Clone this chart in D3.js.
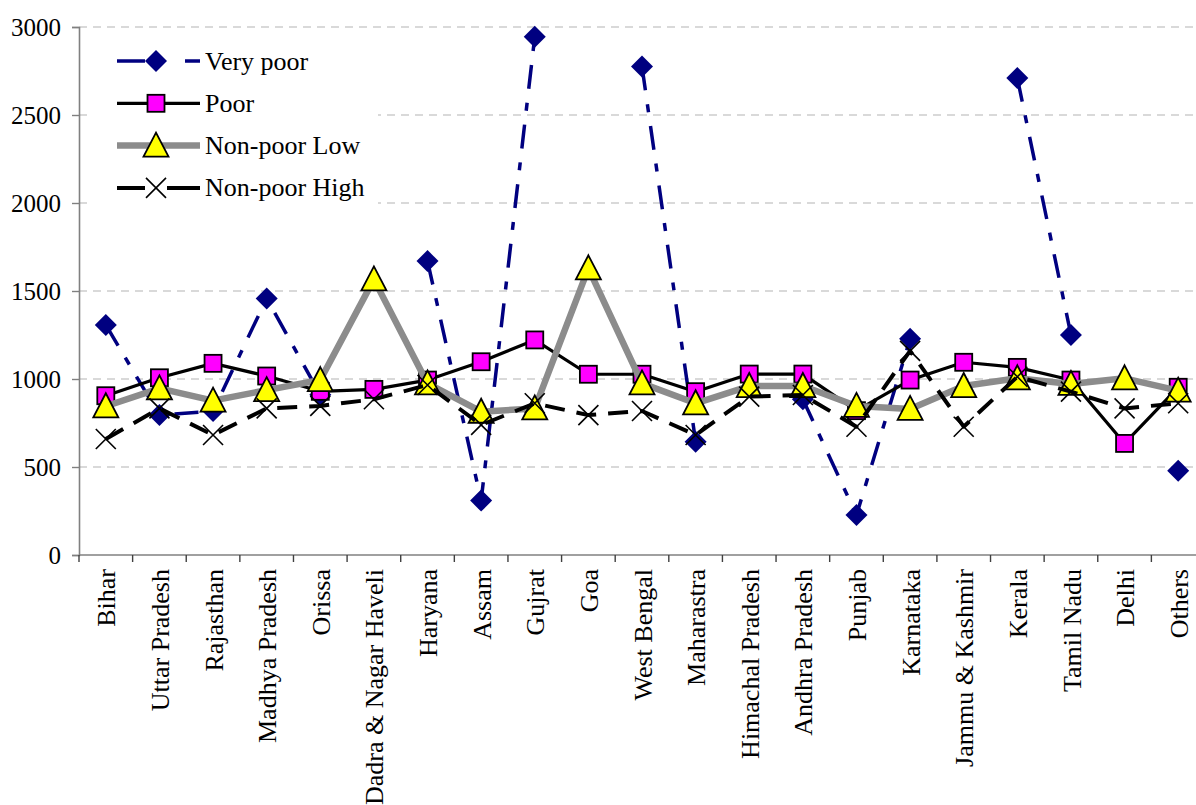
<!DOCTYPE html>
<html>
<head>
<meta charset="utf-8">
<script src="https://cdn.jsdelivr.net/npm/d3@7"></script>
<style>
  html, body { margin: 0; padding: 0; background: #fff; }
  svg { display: block; }
  svg text { font-family: "Liberation Serif", serif; fill: #000; }
</style>
</head>
<body>
<svg id="chart" width="1196" height="805"></svg>
<script>
// States / union territories along the category axis
const states = ["Bihar", "Uttar Pradesh", "Rajasthan", "Madhya Pradesh", "Orissa",
  "Dadra & Nagar Haveli", "Haryana", "Assam", "Gujrat", "Goa", "West Bengal",
  "Maharastra", "Himachal Pradesh", "Andhra Pradesh", "Punjab", "Karnataka",
  "Jammu & Kashmir", "Kerala", "Tamil Nadu", "Delhi", "Others"];

// null = no value for that state
const veryPoor = [1307, 795, 818, 1458, 910, null, 1670, 309, 2945, null, 2775,
  644, null, 885, 227, 1228, null, 2710, 1250, null, 479];
const poor = [905, 1007, 1089, 1017, 930, 941, 994, 1098, 1222, 1027, 1027,
  928, 1028, 1028, 820, 994, 1095, 1066, 994, 634, 953];
const nonPoorLow = [845, 947, 877, 937, 994, 1566, 975, 814, 833, 1629, 975,
  862, 960, 960, 847, 830, 960, 1004, 972, 1004, 934];
const nonPoorHigh = [659, 833, 682, 833, 847, 885, 966, 739, 862, 795, 818,
  682, 900, 909, 729, 1160, 729, 1013, 928, 833, 862];

const yTicks = [0, 500, 1000, 1500, 2000, 2500, 3000];

const series = [
  { name: "Very poor", values: veryPoor, stroke: "#000080", width: 3.5, dash: "24,14,8,14", marker: "diamond" },
  { name: "Poor", values: poor, stroke: "#000", width: 3.2, dash: null, marker: "square" },
  { name: "Non-poor Low", values: nonPoorLow, stroke: "#8c8c8c", width: 6.5, dash: null, marker: "triangle" },
  { name: "Non-poor High", values: nonPoorHigh, stroke: "#000", width: 4, dash: "20,12", marker: "cross" }
];

const svg = d3.select("#chart");
const plot = { left: 79, top: 27, bottom: 555, right: 1205 };

const x = d3.scaleBand().domain(states).range([plot.left, plot.right]).paddingInner(0).paddingOuter(0);
const y = d3.scaleLinear().domain([0, 3000]).range([plot.bottom, plot.top]);
const cx = s => x(s) + x.bandwidth() / 2;

// horizontal dashed grid
svg.append("g").selectAll("line").data(yTicks.filter(t => t > 0)).join("line")
  .attr("x1", plot.left).attr("x2", 1196)
  .attr("y1", d => y(d)).attr("y2", d => y(d))
  .attr("stroke", "#b4b4b4").attr("stroke-width", 1.2).attr("stroke-dasharray", "8,6");

// y axis
const yAxis = svg.append("g").attr("transform", `translate(${plot.left},0)`)
  .call(d3.axisLeft(y).tickValues(yTicks).tickSize(7).tickPadding(11).tickFormat(d3.format("d")));
yAxis.attr("font-family", null).attr("font-size", null);
yAxis.select(".domain").attr("stroke", "#808080").attr("stroke-width", 1.6);
yAxis.selectAll(".tick line").attr("stroke", "#808080").attr("stroke-width", 1.4);
yAxis.selectAll(".tick text")
  .style("font-family", "'Liberation Serif', serif").style("font-size", "25px").attr("fill", "#000");

// x axis with ticks between categories
const xg = svg.append("g");
xg.append("line").attr("x1", plot.left).attr("x2", 1196).attr("y1", plot.bottom).attr("y2", plot.bottom)
  .attr("stroke", "#808080").attr("stroke-width", 1.6);
const bounds = states.map(s => x(s)).concat([plot.right]);
xg.selectAll("line.tk").data(bounds).join("line").attr("class", "tk")
  .attr("x1", d => d).attr("x2", d => d).attr("y1", plot.bottom).attr("y2", plot.bottom + 7)
  .attr("stroke", "#404040").attr("stroke-width", 1.4);
xg.selectAll("text").data(states).join("text")
  .attr("transform", d => `translate(${cx(d) + 1},${plot.bottom + 14}) rotate(-90)`)
  .attr("text-anchor", "end").attr("dy", "0.33em")
  .style("font-size", "26px").text(d => d);

// marker drawing
function drawMarker(g, type, px, py) {
  if (type === "diamond") {
    g.append("path").attr("d", `M${px},${py - 11}L${px + 11},${py}L${px},${py + 11}L${px - 11},${py}Z`)
      .attr("fill", "#000080");
  } else if (type === "square") {
    g.append("rect").attr("x", px - 8.5).attr("y", py - 8.5).attr("width", 17).attr("height", 17)
      .attr("fill", "#ff00ff").attr("stroke", "#000").attr("stroke-width", 1.8);
  } else if (type === "triangle") {
    g.append("path").attr("d", `M${px},${py - 13}L${px + 12.5},${py + 11}L${px - 12.5},${py + 11}Z`)
      .attr("fill", "#ffff00").attr("stroke", "#000").attr("stroke-width", 1.8).attr("stroke-linejoin", "miter");
  } else if (type === "cross") {
    g.append("path").attr("d", `M${px - 10},${py - 10}L${px + 10},${py + 10}M${px + 10},${py - 10}L${px - 10},${py + 10}`)
      .attr("stroke", "#000").attr("stroke-width", 1.6).attr("fill", "none");
  }
}

const line = d3.line().defined(d => d.v != null).x(d => cx(d.s)).y(d => y(d.v));

series.forEach(sr => {
  const g = svg.append("g");
  const pts = states.map((s, i) => ({ s, v: sr.values[i] }));
  g.append("path").datum(pts).attr("d", line)
    .attr("fill", "none").attr("stroke", sr.stroke).attr("stroke-width", sr.width)
    .attr("stroke-dasharray", sr.dash).attr("stroke-linejoin", "round");
  pts.filter(p => p.v != null).forEach(p => drawMarker(g, sr.marker, cx(p.s), y(p.v)));
});

// legend
const lg = svg.append("g");
lg.append("rect").attr("x", 92).attr("y", 36).attr("width", 286).attr("height", 174).attr("fill", "#fff");
series.forEach((sr, i) => {
  const ly = 61 + i * 42.3;
  lg.append("line").attr("x1", 117).attr("x2", 200).attr("y1", ly).attr("y2", ly)
    .attr("stroke", sr.stroke).attr("stroke-width", sr.width)
    .attr("stroke-dasharray", sr.marker === "diamond" ? "28,40,15" : (sr.marker === "cross" ? "28,22,40" : null));
  drawMarker(lg, sr.marker, 156, ly);
  lg.append("text").attr("x", 205).attr("y", ly).attr("dy", "0.33em").style("font-size", "26px").text(sr.name);
});
</script>
</body>
</html>
